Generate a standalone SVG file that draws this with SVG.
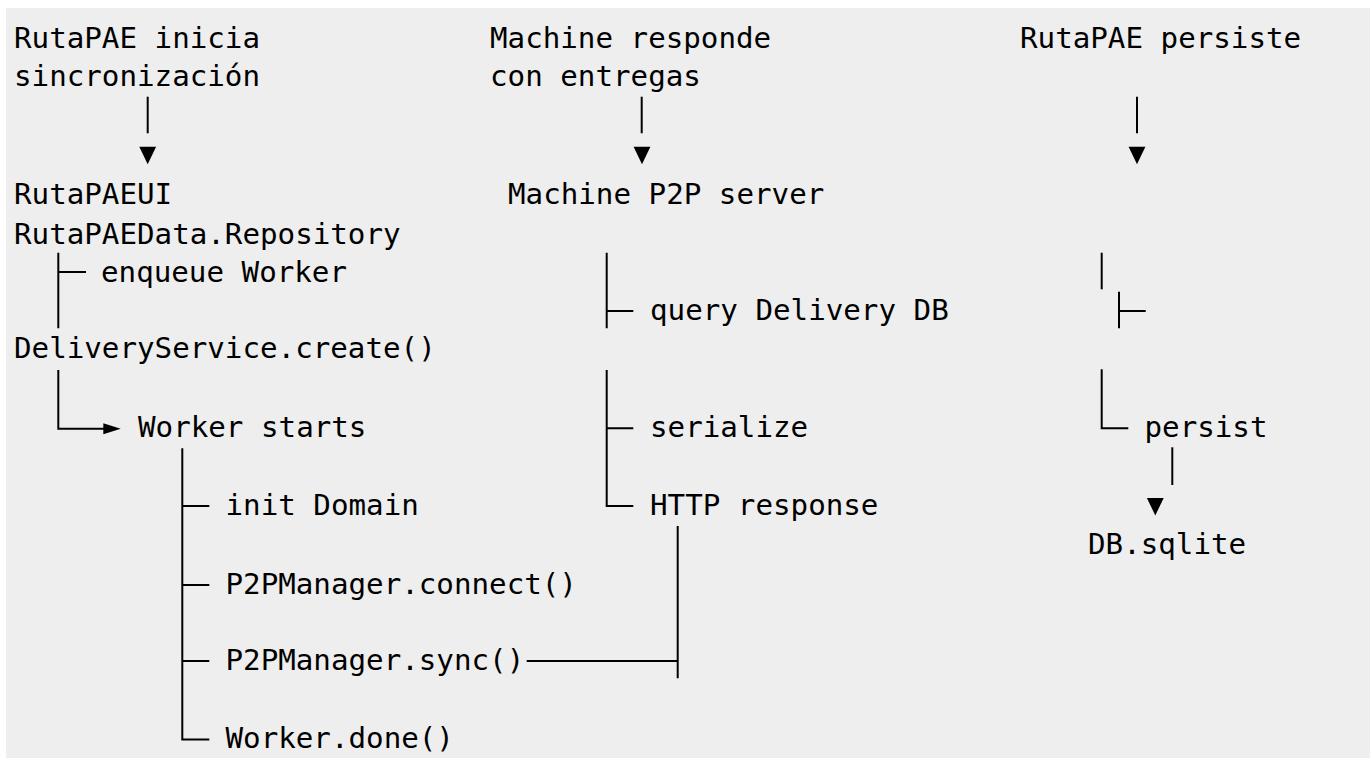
<svg xmlns="http://www.w3.org/2000/svg" xmlns:xlink="http://www.w3.org/1999/xlink" width="1370" height="758" viewBox="0 0 1370 758">
  <style>
    .t { font-family: "DejaVu Sans Mono", "Liberation Mono", monospace; font-size: 29.2px; fill: #000; white-space: pre; }
    .c { stroke: #000; stroke-width: 2; fill: none; stroke-linecap: butt; }
    .h { fill: #000; stroke: none; }
  </style>
  <defs>
    <path id="down" d="M-8.4,-17.6 L8.4,-17.6 L0,0 Z"/>
  </defs>
  <rect x="6" y="8" width="1364" height="750" fill="#eeeeee"/>

  <g id="connectors">
    <!-- top arrows -->
    <line class="c" x1="147.7" y1="96.7" x2="147.7" y2="133.3"/>
    <use href="#down" class="h" x="147.7" y="164.3"/>
    <line class="c" x1="641.7" y1="96.7" x2="641.7" y2="133.3"/>
    <use href="#down" class="h" x="642" y="164.3"/>
    <line class="c" x1="1137" y1="96.7" x2="1137" y2="133.3"/>
    <use href="#down" class="h" x="1137" y="164.3"/>

    <!-- left tree -->
    <path class="c" d="M58.3,252.7 V328.3 M58.3,272 H86"/>
    <path class="c" d="M58.3,370 V428.8 H104"/>
    <polygon class="h" points="103.3,423.3 120.7,428.8 103.3,434.3"/>

    <!-- worker tree -->
    <path class="c" d="M182.3,448.3 V739.5 H209.3 M182.3,506 H209.3 M182.3,585 H209.3 M182.3,661 H209.3"/>

    <!-- middle tree -->
    <path class="c" d="M606.7,252.7 V328.3 M606.7,311 H633.3"/>
    <path class="c" d="M606.7,370 V506 H633.3 M606.7,428.3 H633.3"/>

    <!-- HTTP response to sync -->
    <path class="c" d="M677.7,526 V678.3 M526.7,661 H677.7"/>

    <!-- right tree -->
    <line class="c" x1="1101.7" y1="252.7" x2="1101.7" y2="289.3"/>
    <path class="c" d="M1119,291.7 V328.3 M1119,311 H1145.7"/>
    <path class="c" d="M1101.7,369.3 V428.3 H1128.3"/>
    <line class="c" x1="1172.3" y1="447.3" x2="1172.3" y2="485"/>
    <use href="#down" class="h" x="1155.3" y="515.5"/>
  </g>

  <g id="n-ruta-inicia"><text class="t" x="14" y="47.7">RutaPAE inicia</text><text class="t" x="14" y="86.3">sincronización</text></g>
  <g id="n-machine-responde"><text class="t" x="490" y="47.7">Machine responde</text><text class="t" x="490" y="86.3">con entregas</text></g>
  <g id="n-ruta-persiste"><text class="t" x="1020" y="47.7">RutaPAE persiste</text></g>
  <g id="n-rutapaeui"><text class="t" x="14" y="203.8">RutaPAEUI</text><text class="t" x="14" y="243.5">RutaPAEData.Repository</text></g>
  <g id="n-machine-server"><text class="t" x="508" y="203.8">Machine P2P server</text></g>
  <g id="n-enqueue"><text class="t" x="101" y="281.5">enqueue Worker</text></g>
  <g id="n-query"><text class="t" x="650" y="320">query Delivery DB</text></g>
  <g id="n-delivery"><text class="t" x="14" y="358">DeliveryService.create()</text></g>
  <g id="n-worker-starts"><text class="t" x="138" y="436.8">Worker starts</text></g>
  <g id="n-serialize"><text class="t" x="650" y="436.8">serialize</text></g>
  <g id="n-persist"><text class="t" x="1144.5" y="436.8">persist</text></g>
  <g id="n-init"><text class="t" x="225.5" y="514.8">init Domain</text></g>
  <g id="n-http"><text class="t" x="650" y="514.8">HTTP response</text></g>
  <g id="n-db"><text class="t" x="1088" y="553.8">DB.sqlite</text></g>
  <g id="n-connect"><text class="t" x="225.5" y="593.5">P2PManager.connect()</text></g>
  <g id="n-sync"><text class="t" x="225.5" y="670">P2PManager.sync()</text></g>
  <g id="n-done"><text class="t" x="225.5" y="748.3">Worker.done()</text></g>
</svg>
